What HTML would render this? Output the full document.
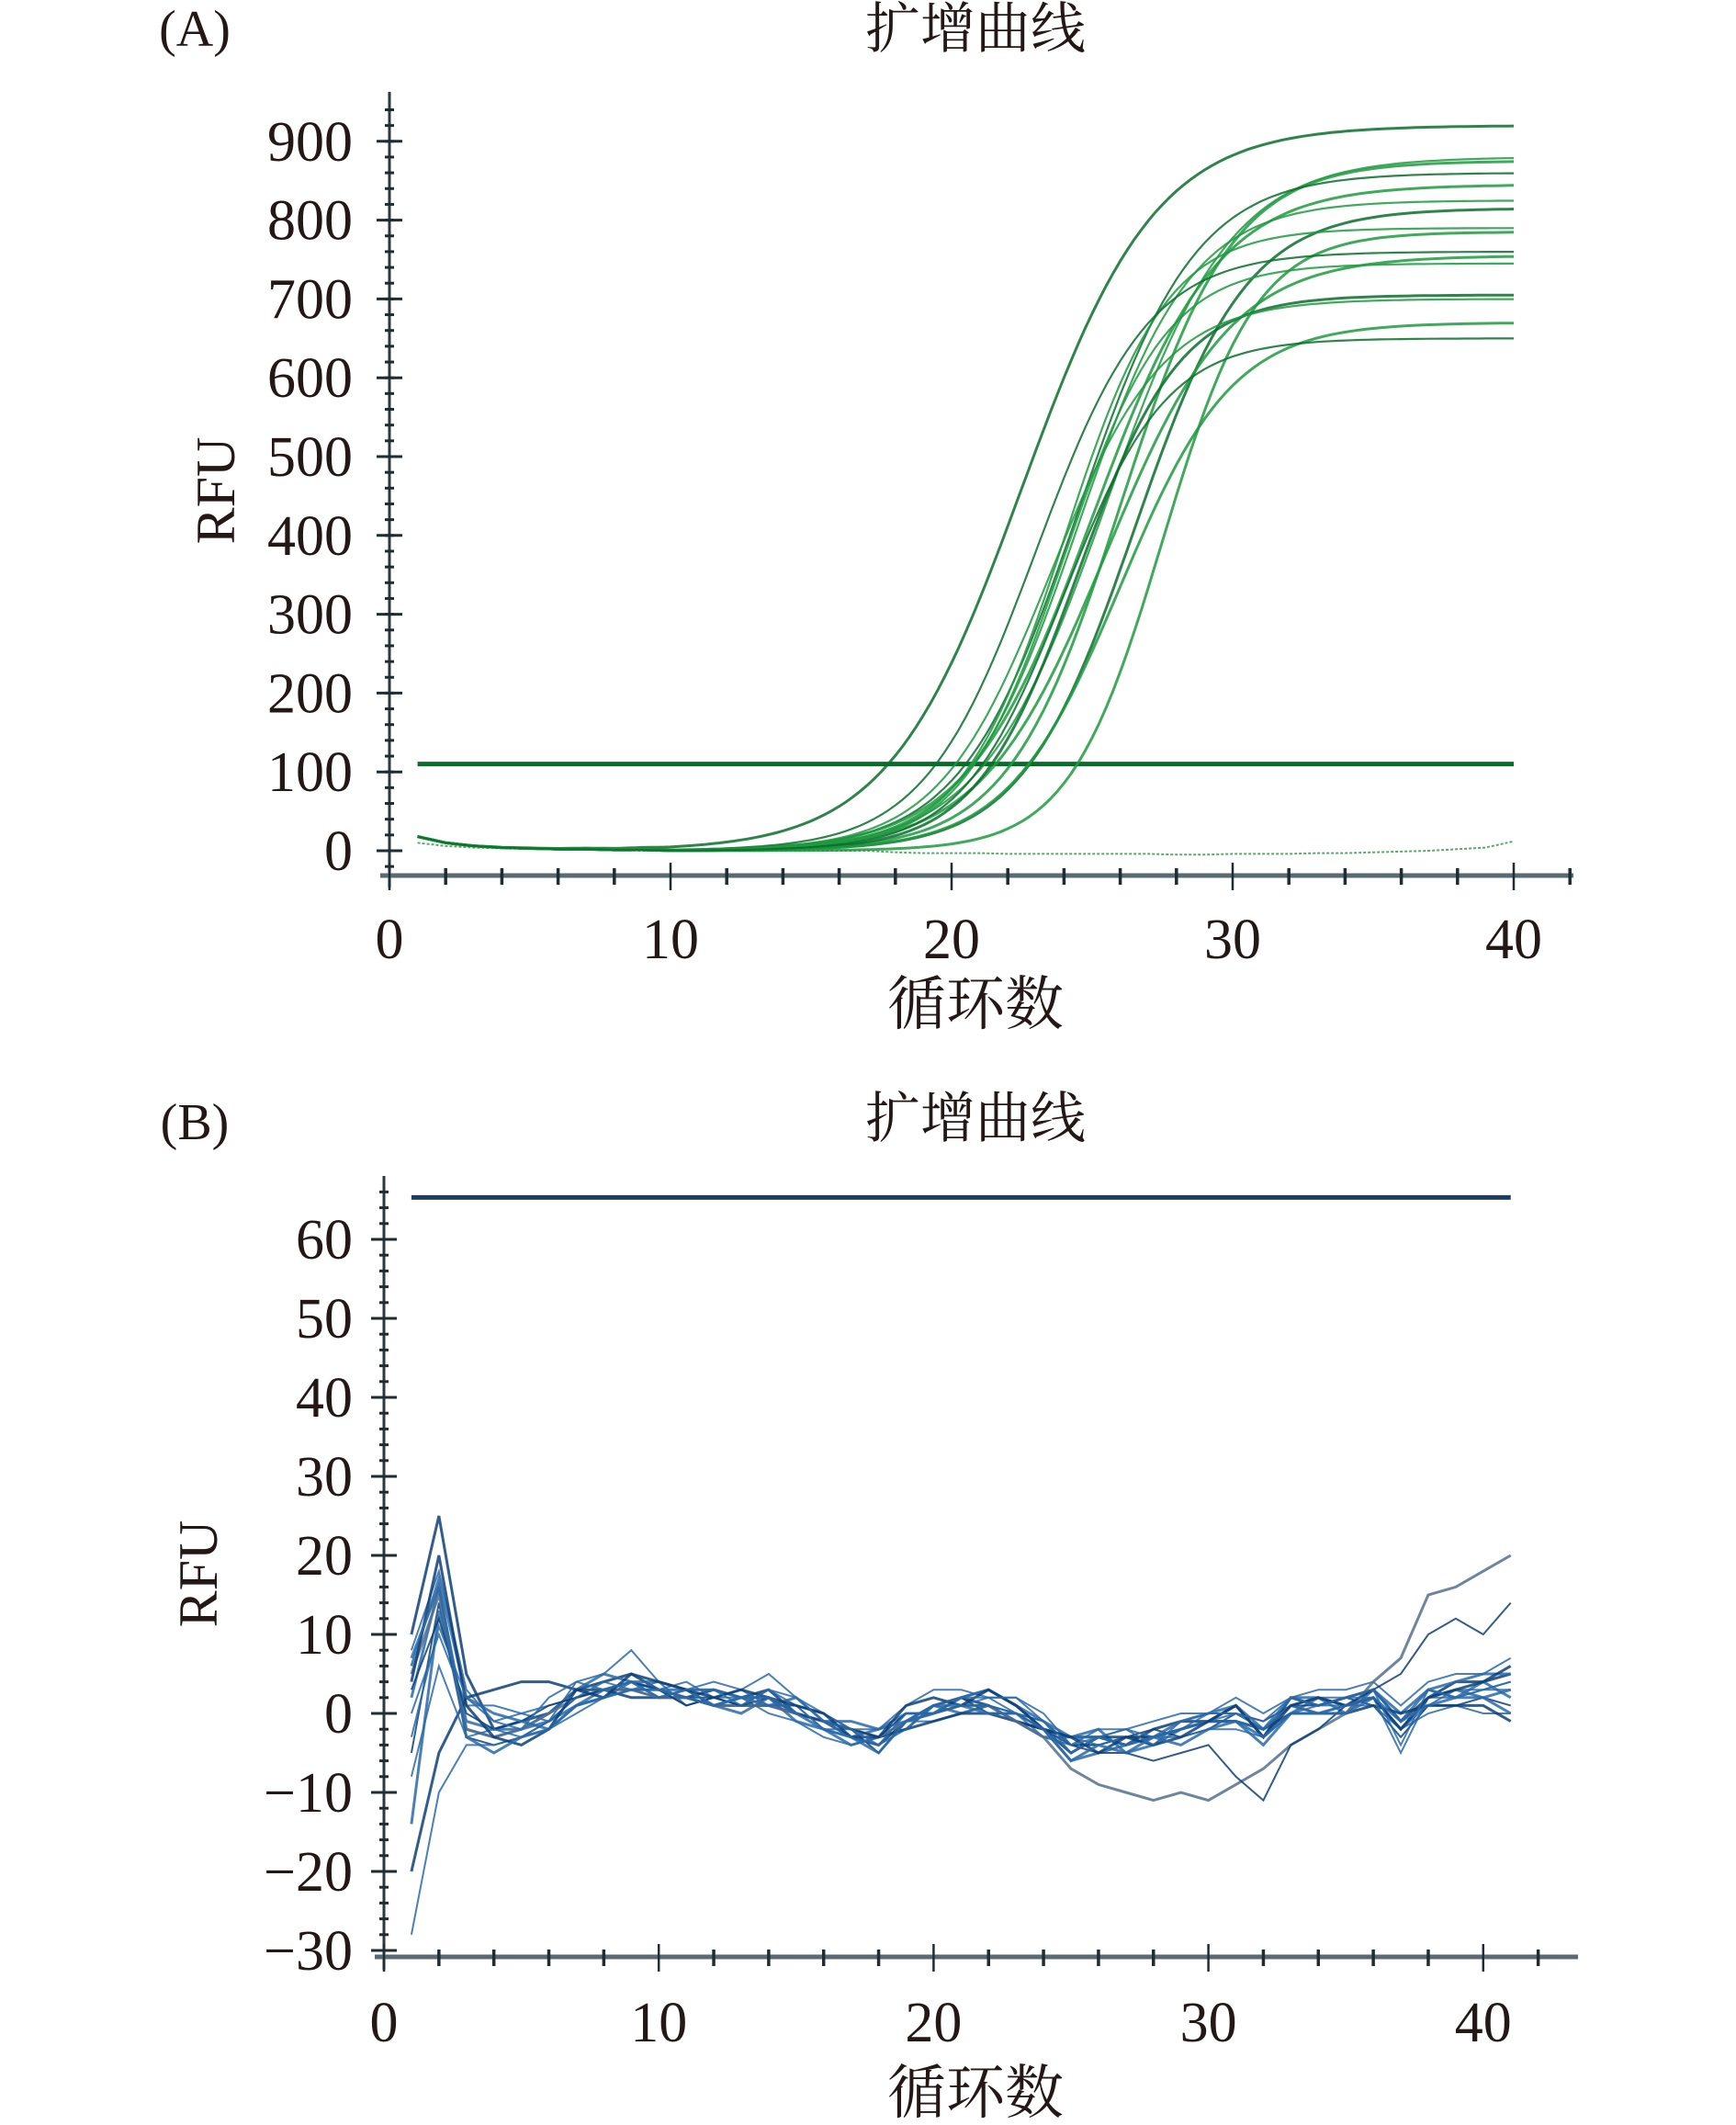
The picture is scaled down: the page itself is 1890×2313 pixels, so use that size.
<!DOCTYPE html>
<html><head><meta charset="utf-8"><style>
html,body{margin:0;padding:0;background:#fff;}
svg{display:block;}
.t{font-family:"Liberation Serif","Noto Serif CJK SC",serif;fill:#231815;}
</style></head><body>
<svg id="svg" width="1890" height="2313" viewBox="0 0 1890 2313" xmlns="http://www.w3.org/2000/svg">
<g id="chartA"></g>
<g id="chartB"></g>
</svg>
<script>
// ---------- Chart A data ----------
const aXTicks = [0,10,20,30,40];
const aYTicks = [0,100,200,300,400,500,600,700,800,900];
const aPlateau = [920,880,875,860,845,825,815,790,785,760,755,745,705,700,670,650];
const aMidCycle = [22.5,25.5,26,24.5,25,24.5,26.5,24,27.5,23,25.5,24,24.5,23.5,26,24];
const aSlope = [0.42,0.45,0.5,0.48,0.45,0.5,0.5,0.55,0.6,0.5,0.45,0.55,0.55,0.5,0.5,0.55];
const aBaseline = [18,10,6,4,3,2,2,1,1,0,0,0,0,0,0,0,0,0,0,0,0,0,0,0,0,0,0,0,0,0,0,0,0,0,0,0,0,0,0,0];
const aFlat = [10,6,4,3,2,2,1,1,0,0,0,0,0,0,0,0,0,-2,-3,-3,-3,-4,-4,-4,-4,-4,-4,-5,-5,-4,-4,-4,-3,-3,-2,-1,0,2,4,12];
const aThreshold = 110;
// ---------- Chart B data ----------
const bXTicks = [0,10,20,30,40];
const bYTicks = [-30,-20,-10,0,10,20,30,40,50,60];
const bThreshold = 65.3;
const bSeries = [
[10,25,5,-2,-1,0,3,4,5,3,2,3,2,3,0,-1,-3,-4,-1,1,2,1,-1,-2,-5,-3,-4,-2,-1,-1,1,-3,2,1,2,3,-1,2,4,4,5],
[8,18,3,-1,0,1,2,3,3,4,1,2,1,3,1,-2,-2,-3,0,0,1,2,0,-3,-4,-4,-3,-3,-2,0,0,-2,1,0,1,2,-2,1,3,3,4],
[2,16,-2,-3,-2,-1,1,2,4,3,3,1,0,2,-1,-2,-4,-3,-2,1,0,1,-1,-3,-3,-2,-5,-4,-2,-1,-1,-4,0,2,1,3,0,3,2,4,2],
[-5,14,-3,-4,-3,-1,2,3,3,2,2,2,1,1,1,0,-2,-5,-1,0,2,0,0,-1,-4,-4,-3,-2,-3,-2,0,-1,1,1,2,1,-3,1,1,2,1],
[-14,13,-1,-2,-2,0,3,5,4,2,3,3,2,2,0,-1,-3,-2,0,0,2,3,1,-2,-6,-5,-4,-3,-1,0,1,-2,2,2,0,3,-1,3,4,5,5],
[-28,-10,-4,-4,-3,-2,0,2,3,3,1,2,2,0,-1,-3,-4,-3,-1,-1,0,1,-1,-2,-3,-4,-3,-3,-3,-2,-2,-3,0,1,1,1,-2,0,1,0,0],
[-20,-5,2,3,4,4,3,3,2,2,2,1,1,1,0,-1,-2,-3,-2,-1,0,0,-1,-2,-3,-3,-3,-3,-2,-1,-1,-2,0,0,0,1,0,1,1,1,-1],
[0,10,1,1,0,-1,4,5,8,4,3,4,3,5,2,0,-2,-2,1,3,3,2,2,0,-4,-2,-2,-1,0,0,2,0,2,3,3,4,1,4,5,5,7],
[5,15,-2,-3,-2,0,2,3,3,2,2,1,1,1,0,-1,-2,-3,-1,0,1,1,-1,-3,-7,-9,-10,-11,-10,-11,-9,-7,-4,-2,0,4,7,15,16,18,20],
[3,12,0,-2,-1,1,2,3,4,3,1,2,1,2,0,-1,-2,-3,0,0,1,1,0,-2,-4,-5,-5,-6,-5,-4,-8,-11,-4,-2,1,3,5,10,12,10,14],
[6,17,2,0,-1,-2,1,3,4,4,3,1,2,1,2,-1,-1,-2,-1,0,2,3,1,-1,-3,-3,-4,-3,-2,-1,-1,-2,1,0,0,2,-2,2,3,2,3],
[-8,6,-3,-2,-3,-1,2,4,3,3,4,2,3,1,1,-2,-3,-4,0,0,1,1,0,-1,-5,-3,-2,-3,-2,-1,0,-2,1,2,2,2,-5,2,2,3,4],
[4,20,1,-3,-4,-2,3,2,5,4,3,2,3,2,1,0,-3,-3,1,2,1,3,1,-2,-3,-5,-3,-4,-3,-1,1,-3,1,2,1,2,-2,2,3,4,6],
[-3,11,2,-1,-2,2,4,3,4,2,3,3,1,3,2,-1,-2,-4,-2,1,2,2,2,-1,-4,-3,-2,-4,-1,0,0,-1,2,1,2,3,-4,3,2,3,3],
[7,16,-3,-5,-3,-2,1,2,3,3,2,1,2,2,0,-2,-3,-5,-1,1,1,0,0,-2,-6,-4,-5,-3,-4,-2,-1,-3,0,0,1,2,-1,1,2,2,0]
];

const NS = "http://www.w3.org/2000/svg";
function mk(tag, attrs, parent){const e=document.createElementNS(NS,tag);for(const k in attrs)e.setAttribute(k,attrs[k]);parent.appendChild(e);return e;}

function drawAxes(g, cfg){
  const {x0,xs,y0,ys,axisY,axisTop,axisRight,xTicks,yTicks,yMin,yMax,yMinor,labelRight,xLabelY} = cfg;
  const X=c=>x0+c*xs, Y=v=>y0-v*ys;
  const yaxis = mk('line',{x1:x0,y1:axisTop,x2:x0,y2:axisY+14,stroke:'#2a3a40','stroke-width':3},g);
  
  
  const xaxis = mk('line',{x1:x0-10,y1:axisY,x2:axisRight,y2:axisY,stroke:'#5a6a72','stroke-width':5},g);
  
  
  for(let v=yMin; v<=yMax+1e-6; v+=yMinor){
    const y=Y(v); if(y<axisTop+4||y>axisY) continue;
    mk('line',{x1:x0-5,y1:y,x2:x0+5,y2:y,stroke:'#1f2d33','stroke-width':3},g);
  }
  for(let c=0;c<=42;c+=2){
    const x=X(c); if(x>axisRight) continue;
    const major=c%10===0;
    mk('line',{x1:x,y1:axisY-(major?14:8),x2:x,y2:axisY+(major?16:10),stroke:'#1f2d33','stroke-width':major?2.5:3.5},g);
  }
  yTicks.forEach(v=>{
    mk('line',{x1:x0-14,y1:Y(v),x2:x0+14,y2:Y(v),stroke:'#1f2d33','stroke-width':3},g);
    const t=mk('text',{x:labelRight,y:Y(v)+21,'text-anchor':'end','font-size':62,class:'t'},g);
    t.textContent = v<0 ? '\u2212'+(-v) : String(v);
    
    
  });
  xTicks.forEach(c=>{
    const t=mk('text',{x:X(c),y:xLabelY,'text-anchor':'middle','font-size':62,class:'t'},g);
    t.textContent=String(c);
    
    
  });
  return {X,Y};
}

function addText(g,x,y,s,txt,name,extra){
  const t=mk('text',Object.assign({x:x,y:y,'font-size':s,'text-anchor':'middle',class:'t'},extra||{}),g);
  t.textContent=txt;
  
  
  return t;
}

// ---------- Chart A ----------
(function(){
  const g=document.getElementById('chartA');
  addText(g,212,50,56,'(A)','panel-label-a');
  addText(g,1062,52,60,'扩增曲线','chart-a-title');
  addText(g,0,0,60,'RFU','y-axis-title-a',{transform:'translate(255,534) rotate(-90)'});
  addText(g,1062,1115,64,'循环数','x-axis-title-a');
  const {X,Y}=drawAxes(g,{x0:424,xs:30.6,y0:926,ys:0.858,axisY:953,axisTop:100,axisRight:1713,
    xTicks:aXTicks,yTicks:aYTicks,yMin:-20,yMax:1000,yMinor:20,labelRight:384,xLabelY:1043});
  const th=mk('line',{x1:X(1),y1:Y(aThreshold),x2:X(40),y2:Y(aThreshold),stroke:'#0b6b2a','stroke-width':5},g);
  
  
  const fl=mk('polyline',{points:aFlat.map((v,i)=>X(i+1)+','+Y(v)).join(' '),fill:'none',stroke:'#5aa86a','stroke-width':2,'stroke-dasharray':'3 2'},g);
  
  
  aPlateau.forEach((p,k)=>{
    const pts=[];
    for(let c=1;c<=40;c+=0.25){
      const i=Math.min(38,Math.floor(c)-1), f=c-Math.floor(c);
      const b=aBaseline[i]*(1-f)+aBaseline[i+1]*f;
      const v=p/(1+Math.exp(-aSlope[k]*(c-aMidCycle[k])))+b;
      pts.push(X(c).toFixed(1)+','+Y(v).toFixed(1));
    }
    const l=mk('polyline',{points:pts.join(' '),fill:'none',stroke:k%3===0?'#0a6f2c':'#1e9a40','stroke-width':k%2?2.2:3,'stroke-opacity':0.85},g);
    
    
  });
})();

// ---------- Chart B ----------
(function(){
  const g=document.getElementById('chartB');
  addText(g,212,1240,56,'(B)','panel-label-b');
  addText(g,1062,1238,60,'扩增曲线','chart-b-title');
  addText(g,0,0,60,'RFU','y-axis-title-b',{transform:'translate(236,1713) rotate(-90)'});
  addText(g,1062,2300,64,'循环数','x-axis-title-b');
  const {X,Y}=drawAxes(g,{x0:418,xs:29.92,y0:1865,ys:8.6,axisY:2130,axisTop:1280,axisRight:1718,
    xTicks:bXTicks,yTicks:bYTicks,yMin:-30,yMax:68,yMinor:2,labelRight:384,xLabelY:2222});
  const th=mk('line',{x1:X(1),y1:Y(bThreshold),x2:X(41),y2:Y(bThreshold),stroke:'#1e3d5c','stroke-width':5},g);
  
  
  bSeries.forEach((s,k)=>{
    const l=mk('polyline',{points:s.map((v,i)=>X(i+1)+','+Y(v)).join(' '),fill:'none',stroke:k%3===0?'#0d3f78':(k>=8&&k<=9?'#55708f':'#2a6aa8'),'stroke-width':k%2?2:3,'stroke-opacity':0.85},g);
    
    
  });
})();
</script>
</body></html>
